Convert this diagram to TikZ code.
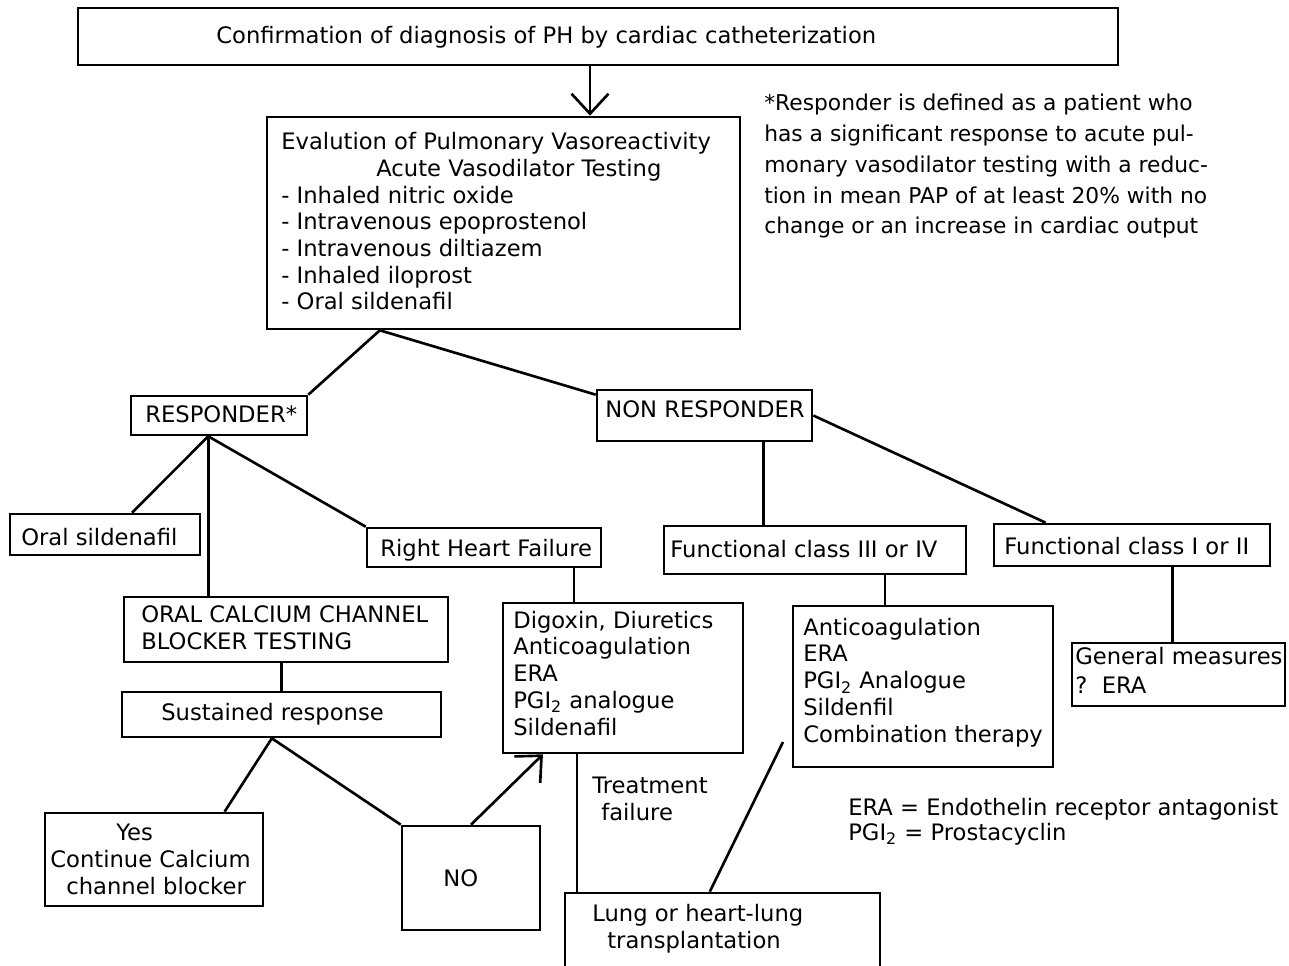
\documentclass[tikz,border=0pt]{standalone}
\usepackage{fontspec}
\setmainfont{DejaVu Sans}
\usetikzlibrary{arrows.meta,calc,fit}

\newcommand{\boxfont}{\fontsize{12.9}{15.2}\selectfont}

\begin{document}
\begin{tikzpicture}[x=0.02cm,y=-0.02cm,line width=1.5pt,
  box/.style={draw,inner sep=0pt,fit={#1}},
  txt/.style={anchor=base west,inner sep=0pt,align=left,font=\boxfont},
  barb/.style={-{Straight Barb[length=0.4cm,width=0.74cm]}}]

  \useasboundingbox (0,0) rectangle (1289,966);
  \clip (0,0) rectangle (1289,966);

  % boxes
  \node[box={(78,8) (1118,65)}] (confirm) {};
  \node[box={(267,117) (740,329)}] (eval) {};
  \node[box={(131,396) (307,435)}] (resp) {};
  \node[box={(597,390) (812,441)}] (nonresp) {};
  \node[box={(10,514) (200,555)}] (oralsil) {};
  \node[box={(367,528) (601,567)}] (rhf) {};
  \node[box={(664,526) (966,574)}] (fc34) {};
  \node[box={(994,524) (1270,566)}] (fc12) {};
  \node[box={(124,597) (448,662)}] (ccb) {};
  \node[box={(122,692) (441,737)}] (sust) {};
  \node[box={(503,603) (743,753)}] (dig) {};
  \node[box={(793,606) (1053,767)}] (anti34) {};
  \node[box={(1072,643) (1285,706)}] (general) {};
  \node[box={(45,813) (263,906)}] (yes) {};
  \node[box={(402,826) (540,930)}] (no) {};
  \node[box={(565,893) (880,980)}] (lung) {};

  % texts (anchored on the last line)
  \node[txt] (confirmtxt) at (215,44) {Confirmation of diagnosis of PH by cardiac catheterization};
  \node[txt] (evaltxt) at (280,310) {Evalution of Pulmonary Vasoreactivity\\
    \hspace*{1.9cm}Acute Vasodilator Testing\\
    - Inhaled nitric oxide\\
    - Intravenous epoprostenol\\
    - Intravenous diltiazem\\
    - Inhaled iloprost\\
    - Oral sildenafil};
  \node[txt,font=\fontsize{12.4}{17.6}\selectfont] (notetxt) at (763,234) {*Responder is defined as a patient who\\
    has a significant response to acute pul-\\
    monary vasodilator testing with a reduc-\\
    tion in mean PAP of at least 20\% with no\\
    change or an increase in cardiac output};
  \node[txt] (resptxt) at (144,422) {RESPONDER*};
  \node[txt] (nonresptxt) at (604,418) {NON RESPONDER};
  \node[txt] (oralsiltxt) at (20,545) {Oral sildenafil};
  \node[txt] (rhftxt) at (379,556) {Right Heart Failure};
  \node[txt] (fc34txt) at (669,557) {Functional class III or IV};
  \node[txt] (fc12txt) at (1003,554) {Functional class I or II};
  \node[txt] (ccbtxt) at (140,649) {ORAL CALCIUM CHANNEL\\BLOCKER TESTING};
  \node[txt] (susttxt) at (160,720) {Sustained response};
  \node[txt] (digtxt) at (512,735) {Digoxin, Diuretics\\Anticoagulation\\ERA\\
    PGI\textsubscript{2}\ analogue\\Sildenafil};
  \node[txt] (anti34txt) at (802,742) {Anticoagulation\\ERA\\
    PGI\textsubscript{2}\ Analogue\\Sildenfil\\Combination therapy};
  \node[txt,font=\fontsize{12.9}{16.4}\selectfont] (generaltxt) at (1074,693) {General measures\\?\ \ ERA};
  \node[txt] (yestxt) at (49,894) {\hspace*{1.32cm}Yes\\Continue Calcium\\\hspace*{0.32cm}channel blocker};
  \node[txt] (notxt) at (442,886) {NO};
  \node[txt] (failtxt) at (591,820) {Treatment\\\hspace*{0.18cm}failure};
  \node[txt] (lungtxt) at (591,948) {Lung or heart-lung\\\hspace*{0.3cm}transplantation};
  \node[txt,font=\fontsize{12.9}{14.2}\selectfont] (abbrtxt) at (847,840) {ERA = Endothelin receptor antagonist\\
    PGI\textsubscript{2} = Prostacyclin};

  % connectors
  \coordinate (arrtop)   at ([xshift=-0.16cm]confirm.south);
  \coordinate (evalfoot) at ($(eval.south west)!0.24!(eval.south east)$);
  \coordinate (respfoot) at ($(resp.south west)!0.44!(resp.south east)$);
  \coordinate (nonfoot)  at ($(nonresp.south west)!0.77!(nonresp.south east)$);
  \coordinate (rhffoot)  at ($(rhf.south west)!0.88!(rhf.south east)$);
  \coordinate (sustfoot) at ($(sust.south west)!0.47!(sust.south east)$);
  \coordinate (digfoot)  at ($(dig.south west)!0.31!(dig.south east)$);
  \coordinate (fcfoot)   at ($(fc34.south west)!0.73!(fc34.south east)$);
  \coordinate (fc12foot) at ($(fc12.south west)!0.645!(fc12.south east)$);
  \coordinate (antifoot) at (783,742);

  \draw[barb] (arrtop) -- (arrtop |- eval.north);
  \draw (evalfoot) -- (resp.north east);
  \draw (evalfoot) -- ([yshift=-0.12cm]nonresp.north west);
  \draw (respfoot) -- ($(oralsil.north west)!0.64!(oralsil.north east)$);
  \draw (respfoot) -- (respfoot |- ccb.north);
  \draw (respfoot) -- (rhf.north west);
  \draw (nonfoot) -- (nonfoot |- fc34.north);
  \draw (nonresp.east) -- ($(fc12.north west)!0.19!(fc12.north east)$);
  \draw (sust.north |- ccb.south) -- (sust.north);
  \draw (rhffoot) -- (rhffoot |- dig.north);
  \draw (sustfoot) -- ($(yes.north west)!0.82!(yes.north east)$);
  \draw (sustfoot) -- (no.north west);
  \draw[barb] (no.north) -- ($(dig.south west)!0.17!(dig.south east)$);
  \draw (digfoot) -- (digfoot |- lung.north);
  \draw (antifoot) -- ($(lung.north west)!0.46!(lung.north east)$);
  \draw (fcfoot) -- (fcfoot |- anti34.north);
  \draw (fc12foot) -- (fc12foot |- general.north);
\end{tikzpicture}
\end{document}
